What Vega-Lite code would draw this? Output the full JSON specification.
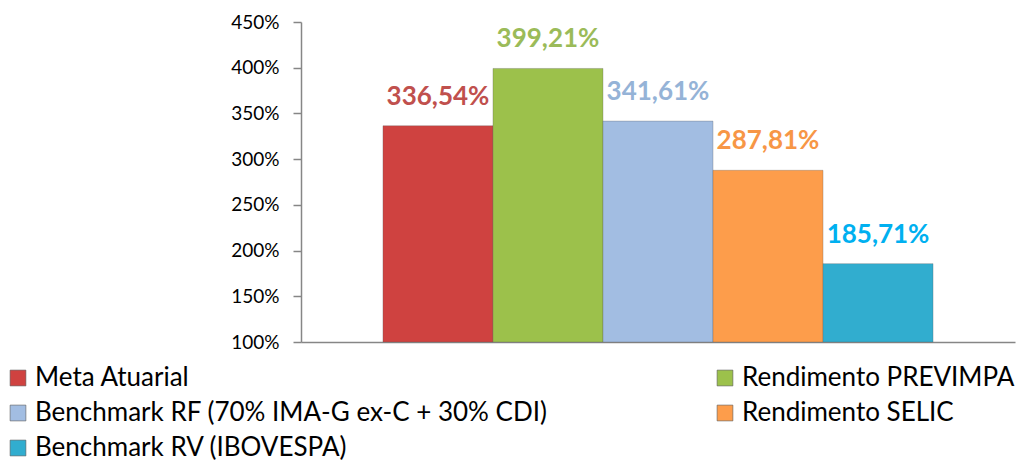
{
  "$schema": "https://vega.github.io/schema/vega-lite/v6.json",
  "width": 714,
  "height": 320,
  "autosize": {"type": "none"},
  "padding": {"left": 301, "top": 22, "right": 9, "bottom": 126},
  "background": "white",
  "config": {"view": {"stroke": null}, "font": "Lato"},
  "data": {
    "values": [
      {"serie": "Meta Atuarial", "valor": 336.54, "label": "336,54%"},
      {"serie": "Rendimento PREVIMPA", "valor": 399.21, "label": "399,21%"},
      {"serie": "Benchmark RF (70% IMA-G ex-C + 30% CDI)", "valor": 341.61, "label": "341,61%"},
      {"serie": "Rendimento SELIC", "valor": 287.81, "label": "287,81%"},
      {"serie": "Benchmark RV (IBOVESPA)", "valor": 185.71, "label": "185,71%"}
    ]
  },
  "encoding": {
    "x": {
      "field": "serie", "type": "nominal", "sort": null,
      "scale": {"paddingInner": 0, "paddingOuter": 0.745},
      "axis": {"title": null, "labels": false, "ticks": false, "domainColor": "#868686", "domainWidth": 1.5}
    }
  },
  "layer": [
    {
      "mark": {"type": "bar", "stroke": "#5a5a5a", "strokeWidth": 0.6, "strokeOpacity": 0.5},
      "encoding": {
        "y": {
          "field": "valor", "type": "quantitative",
          "scale": {"domain": [100, 450], "zero": false, "nice": false},
          "axis": {
            "title": null, "grid": false, "values": [100, 150, 200, 250, 300, 350, 400, 450],
            "labelExpr": "datum.value + '%'", "labelFontSize": 19, "labelColor": "#000000",
            "labelFont": "Lato", "tickSize": 8, "tickColor": "#868686", "domainColor": "#868686",
            "domainWidth": 1.5, "tickWidth": 1.5, "labelPadding": 14
          }
        },
        "y2": {"datum": 100},
        "color": {
          "field": "serie", "type": "nominal", "sort": null,
          "scale": {
            "domain": ["Meta Atuarial", "Rendimento PREVIMPA", "Benchmark RF (70% IMA-G ex-C + 30% CDI)", "Rendimento SELIC", "Benchmark RV (IBOVESPA)"],
            "range": ["#CF4240", "#9CC14B", "#A2BDE2", "#FD9D4B", "#31ADCF"]
          },
          "legend": {
            "title": null, "orient": "none", "legendX": -296, "legendY": 343,
            "columns": 2, "direction": "horizontal", "labelFont": "Lato", "labelFontSize": 26,
            "labelColor": "#000000", "symbolType": "square", "symbolSize": 250, "rowPadding": 9,
            "columnPadding": 164, "labelLimit": 0, "labelOffset": 4, "symbolStrokeWidth": 0.6
          }
        }
      }
    },
    {
      "mark": {"type": "text", "fontWeight": "bold", "fontSize": 26, "baseline": "middle", "dy": -29, "font": "Lato"},
      "encoding": {
        "y": {"field": "valor", "type": "quantitative"},
        "text": {"field": "label"},
        "color": {
          "field": "serie", "type": "nominal", "sort": null,
          "scale": {
            "domain": ["Meta Atuarial", "Rendimento PREVIMPA", "Benchmark RF (70% IMA-G ex-C + 30% CDI)", "Rendimento SELIC", "Benchmark RV (IBOVESPA)"],
            "range": ["#C0504D", "#9BBB59", "#95B3D7", "#F79646", "#00B0F0"]
          },
          "legend": null
        }
      }
    }
  ],
  "resolve": {"scale": {"color": "independent"}, "legend": {"color": "independent"}}
}
